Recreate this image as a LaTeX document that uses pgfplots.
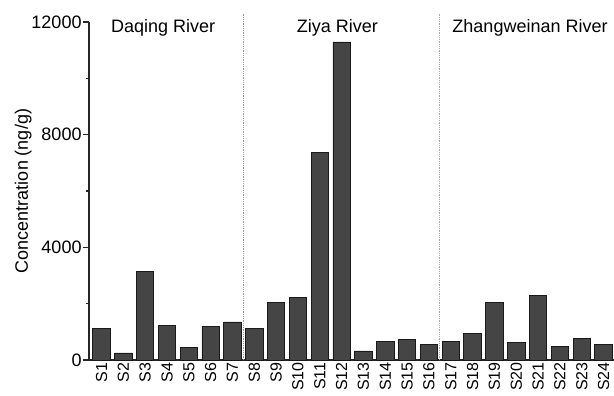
\documentclass[border=0pt]{standalone}
\usepackage{fontspec}
\setmainfont{Liberation Sans}
\usepackage{pgfplots}
\pgfplotsset{compat=1.18}
\definecolor{barfill}{HTML}{454545}
\definecolor{divider}{HTML}{9A9A9A}

\pgfplotstableread{
idx conc
1   1130
2   250
3   3150
4   1240
5   450
6   1180
7   1350
8   1135
9   2035
10  2235
11  7370
12  11290
13  320
14  650
15  720
16  555
17  660
18  945
19  2035
20  615
21  2305
22  470
23  765
24  555
}\concdata

\begin{document}
\fontsize{18}{21}\selectfont
\begin{tikzpicture}
\begin{axis}[
  at={(89pt,36pt)}, anchor=south west,
  scale only axis, width=525.5pt, height=338pt,
  xmin=0.427, xmax=24.5, ymin=0, ymax=12000,
  axis x line*=bottom, axis y line*=left,
  axis line style={-, line width=1.2pt, black!85},
  clip=false,
  xtick={1,...,24},
  xticklabels={S1,S2,S3,S4,S5,S6,S7,S8,S9,S10,S11,S12,S13,S14,S15,S16,S17,S18,S19,S20,S21,S22,S23,S24},
  xtick style={/pgfplots/major tick length=0pt},
  xticklabel style={rotate=90, anchor=east, inner ysep=0pt, inner xsep=-2pt,
    font=\fontsize{16}{19}\selectfont},
  ytick={0,4000,8000,12000},
  yticklabels={0,4000,8000,12000},
  scaled y ticks=false,
  minor ytick={2000,6000,10000},
  extra y ticks={4000,8000,12000},
  extra y tick labels={},
  extra y tick style={ytick align=outside, yticklabel style={draw=none}},
  ytick align=outside,
  ytick style={line width=1.2pt, black!85, /pgfplots/major tick length=5.5pt, /pgfplots/minor tick length=3pt},
  yticklabel style={inner sep=0pt, xshift=-3pt},
  ylabel={Concentration (ng/g)},
  ylabel style={at={(axis description cs:-0.125,0.5)}, anchor=center},
  ybar, bar width=0.8,
]
\addplot[fill=barfill, draw=black!90, line width=0.8pt] table[x=idx, y=conc] {\concdata};

% dotted separators between the river basins
\draw[divider, densely dotted, line width=0.8pt] (axis cs:7.5,0) -- (axis cs:7.5,12300);
\draw[divider!110!black, densely dotted, line width=0.8pt] (axis cs:16.5,0) -- (axis cs:16.5,12300);

\node[anchor=base] at (axis cs:3.82,11644) {Daqing River};
\node[anchor=base] at (axis cs:11.81,11644) {Ziya River};
\node[anchor=base] at (axis cs:20.63,11644) {Zhangweinan River};
\end{axis}
\pgfresetboundingbox
\path[use as bounding box] (0,0) rectangle (614pt,396pt);
\end{tikzpicture}
\end{document}
